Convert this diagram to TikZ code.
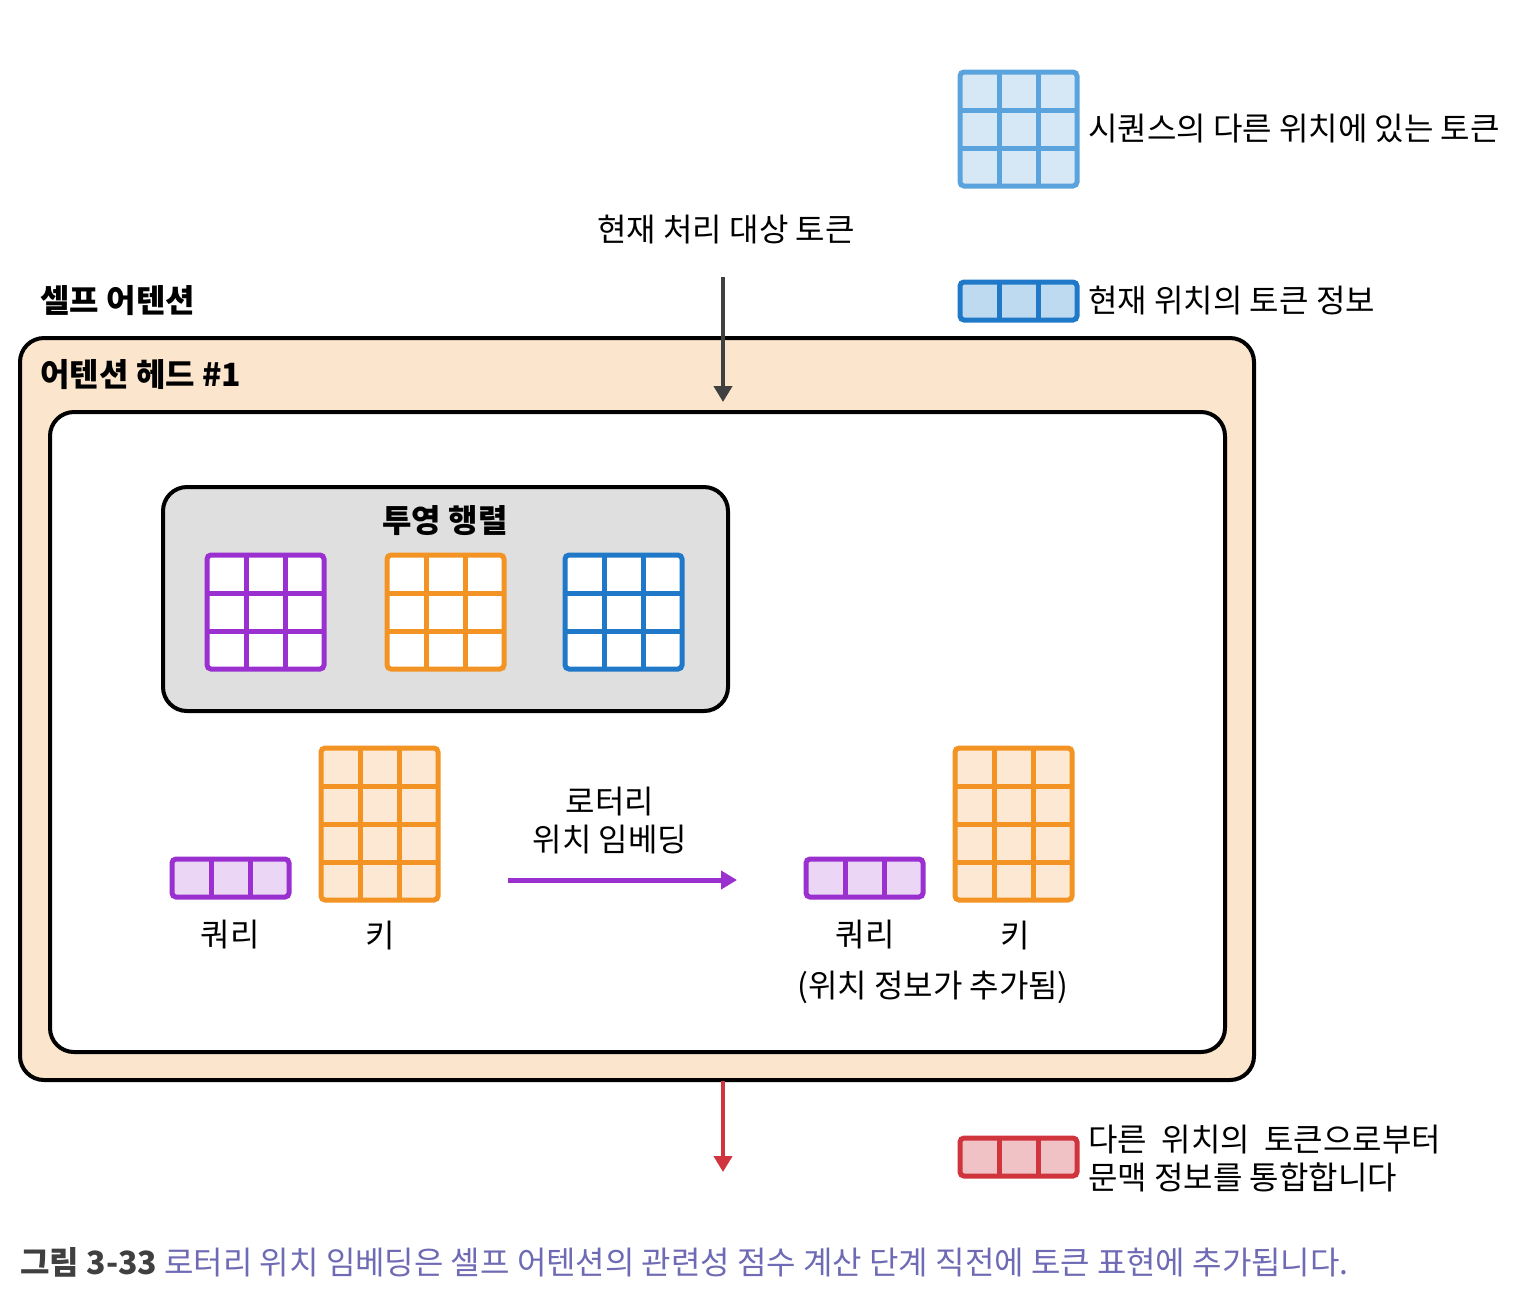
\documentclass[tikz,border=0pt]{standalone}
\usepackage{fontspec}
\setmainfont{Noto Sans CJK KR}
\usetikzlibrary{positioning,arrows.meta}
\definecolor{qpurple}{HTML}{9A30D0}
\definecolor{korange}{HTML}{F39323}
\definecolor{vblue}{HTML}{1F78C8}
\definecolor{lblue}{HTML}{5BA3DC}
\definecolor{tokred}{HTML}{D0343C}
\definecolor{headbg}{HTML}{FBE5CC}
\definecolor{capblue}{HTML}{6E6AB4}
% grid of cells: x, y (top left), cols, rows, colour, fill
\newcommand{\tokgrid}[6]{%
  \foreach \i in {1,...,#3}{\foreach \j in {1,...,#4}{
    \fill[#6] ({#1+(\i-1)*39},{#2+(\j-1)*38}) rectangle ++(39,38);}}
  \draw[#5,line width=2.5pt,rounded corners=2pt] (#1,#2) rectangle ++({#3*39},{#4*38});
  \foreach \i in {2,...,#3}{\draw[#5,line width=2.5pt] ({#1+(\i-1)*39},#2) -- ++(0,{#4*38});}
  \ifnum#4>1 \foreach \j in {2,...,#4}{\draw[#5,line width=2.5pt] (#1,{#2+(\j-1)*38}) -- ++({#3*39},0);}\fi
}
\begin{document}
\begin{tikzpicture}[x=0.5pt,y=-0.5pt,
  lbl/.style={font=\fontsize{16}{19}\selectfont,inner sep=0pt},
  head/.style={font=\fontsize{16}{19}\selectfont\bfseries,inner sep=0pt,anchor=west},
  edge/.style={-{Triangle[width=9pt,length=8pt]},line width=2pt}]
\useasboundingbox (0,0) rectangle (1534,1314);
% legend
\tokgrid{960}{72}{3}{3}{lblue}{lblue!25}
\node[lbl,anchor=west] (lseq) at (1088,129) {시퀀스의 다른 위치에 있는 토큰};
\tokgrid{960}{282}{3}{1}{vblue}{lblue!40}
\node[lbl,anchor=west] (lcur) at (1088,301) {현재 위치의 토큰 정보};
\tokgrid{960}{1138}{3}{1}{tokred}{tokred!30}
\node[lbl,anchor=west,align=left] (lctx) at (1088,1158) {다른 \ 위치의 \ 토큰으로부터\\문맥 정보를 통합합니다};
% boxes
\node[head] (self) at (40,301) {셀프 어텐션};
\draw[line width=2pt,fill=headbg,rounded corners=12pt] (20,338) rectangle (1254,1080);
\node[head] (hd) at (40,375) {어텐션 헤드 \#1};
\draw[line width=2pt,fill=white,rounded corners=12pt] (50,412) rectangle (1225,1052);
\draw[line width=2pt,fill=gray!25,rounded corners=12pt] (163,487) rectangle (728,711);
\node[lbl,font=\fontsize{16}{19}\selectfont\bfseries] (proj) at (445,521) {투영 행렬};
\tokgrid{207}{555}{3}{3}{qpurple}{white}
\tokgrid{387}{555}{3}{3}{korange}{white}
\tokgrid{565}{555}{3}{3}{vblue}{white}
% query / key
\tokgrid{172}{859}{3}{1}{qpurple}{qpurple!20}
\tokgrid{321}{748}{3}{4}{korange}{korange!20}
\node[lbl] (q1) at (230,935) {쿼리};
\node[lbl] (k1) at (380,935) {키};
\tokgrid{806}{859}{3}{1}{qpurple}{qpurple!20}
\tokgrid{955}{748}{3}{4}{korange}{korange!20}
\node[lbl] (q2) at (865,935) {쿼리};
\node[lbl] (k2) at (1015,935) {키};
\node[lbl] (note) at (933,987) {(위치 정보가 추가됨)};
\node[lbl,align=center] (rope) at (610,820) {로터리\\위치 임베딩};
\coordinate (ra) at (508,880);
\coordinate (rb) at (737,880);
\draw[edge,qpurple,line width=2.5pt] (ra) -- (rb);
% in / out
\node[lbl] (cur) at (726,230) {현재 처리 대상 토큰};
\coordinate (ina) at (723,277);
\coordinate (inb) at (723,402);
\draw[edge,darkgray] (ina) -- (inb);
\coordinate (outa) at (723,1081);
\coordinate (outb) at (723,1172);
\draw[edge,tokred] (outa) -- (outb);
% caption
\node[anchor=west,inner sep=0pt,font=\fontsize{16}{19}\selectfont] (cap) at (20,1262)
  {\textbf{\color{darkgray}그림 3-33} \color{capblue}로터리 위치 임베딩은 셀프 어텐션의 관련성 점수 계산 단계 직전에 토큰 표현에 추가됩니다.};
\end{tikzpicture}
\end{document}
